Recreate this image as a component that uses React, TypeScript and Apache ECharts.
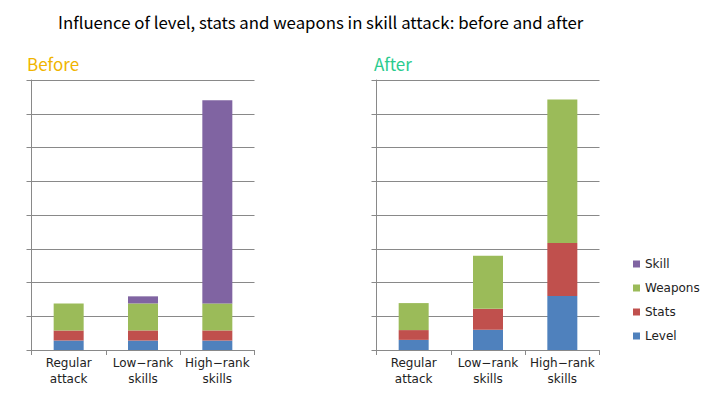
import React, { useEffect, useRef } from "react";
import * as echarts from "echarts";

const categories = ["Regular\nattack", "Low\u2212rank\nskills", "High\u2212rank\nskills"];
const beforeLevel = [28, 28, 28];
const beforeStats = [30, 30, 30];
const beforeWeapons = [80, 80, 80];
const beforeSkill = [0, 21, 602];
const afterLevel = [30, 60, 160];
const afterStats = [29, 62, 157];
const afterWeapons = [80, 157, 425];
const legendOrder = ["Skill", "Weapons", "Stats", "Level"];
const colors: Record<string, string> = {
  Level: "#4F81BD",
  Stats: "#C0504D",
  Weapons: "#9BBB59",
  Skill: "#8064A2",
};

const FONT = "'Noto Sans CJK KR', 'Noto Sans', sans-serif";
const SMALL_FONT = "'DejaVu Sans', sans-serif";
const AXIS_COLOR = "#898989";

export default function App() {
  const ref = useRef<HTMLDivElement>(null);
  useEffect(() => {
    document.body.style.margin = "0";
    if (!ref.current) return;
    const chart = echarts.init(ref.current, undefined, { renderer: "svg" });
    const mkX = (gridIndex: number) => ({
      type: "category" as const,
      gridIndex,
      data: categories,
      axisLine: { show: true, lineStyle: { color: AXIS_COLOR, width: 1 } },
      axisTick: { show: true, length: 5, alignWithLabel: false, lineStyle: { color: AXIS_COLOR } },
      axisLabel: { fontSize: 12, lineHeight: 16, margin: 5, color: "#222", fontFamily: SMALL_FONT, interval: 0 },
    });
    const mkY = (gridIndex: number) => ({
      type: "value" as const,
      gridIndex,
      min: 0,
      max: 800,
      interval: 100,
      axisLine: { show: true, lineStyle: { color: AXIS_COLOR, width: 1 } },
      axisTick: { show: true, length: 5, lineStyle: { color: AXIS_COLOR } },
      axisLabel: { show: false },
      splitLine: { show: true, lineStyle: { color: AXIS_COLOR, width: 1 } },
    });
    const bar = (name: string, data: number[], idx: number, stack: string) => ({
      type: "bar" as const,
      name,
      data,
      xAxisIndex: idx,
      yAxisIndex: idx,
      stack,
      barWidth: 30,
      itemStyle: { color: colors[name] },
    });
    chart.setOption({
      animation: false,
      title: [
        {
          text: "Influence of level, stats and weapons in skill attack: before and after",
          left: 58,
          top: 14,
          padding: 0,
          textStyle: { fontSize: 16.8, fontWeight: "normal", color: "#000", fontFamily: FONT },
        },
        {
          text: "Before",
          left: 27,
          top: 55,
          padding: 0,
          textStyle: { fontSize: 17, fontWeight: "normal", color: "#F0B400", fontFamily: FONT },
        },
        {
          text: "After",
          left: 374,
          top: 55,
          padding: 0,
          textStyle: { fontSize: 17, fontWeight: "normal", color: "#2BCB8E", fontFamily: FONT },
        },
      ],
      legend: {
        data: legendOrder,
        orient: "vertical",
        left: 628,
        top: 252,
        icon: "rect",
        itemWidth: 7,
        itemHeight: 7,
        itemGap: 10,
        textStyle: { fontSize: 12, lineHeight: 14, color: "#222", fontFamily: SMALL_FONT },
      },
      grid: [
        { left: 31.5, top: 80, width: 223, height: 270 },
        { left: 376.5, top: 80, width: 223, height: 270 },
      ],
      xAxis: [mkX(0), mkX(1)],
      yAxis: [mkY(0), mkY(1)],
      series: [
        bar("Level", beforeLevel, 0, "before"),
        bar("Stats", beforeStats, 0, "before"),
        bar("Weapons", beforeWeapons, 0, "before"),
        bar("Skill", beforeSkill, 0, "before"),
        bar("Level", afterLevel, 1, "after"),
        bar("Stats", afterStats, 1, "after"),
        bar("Weapons", afterWeapons, 1, "after"),
      ],
    });
    return () => chart.dispose();
  }, []);
  return <div ref={ref} style={{ width: 720, height: 398 }} />;
}
